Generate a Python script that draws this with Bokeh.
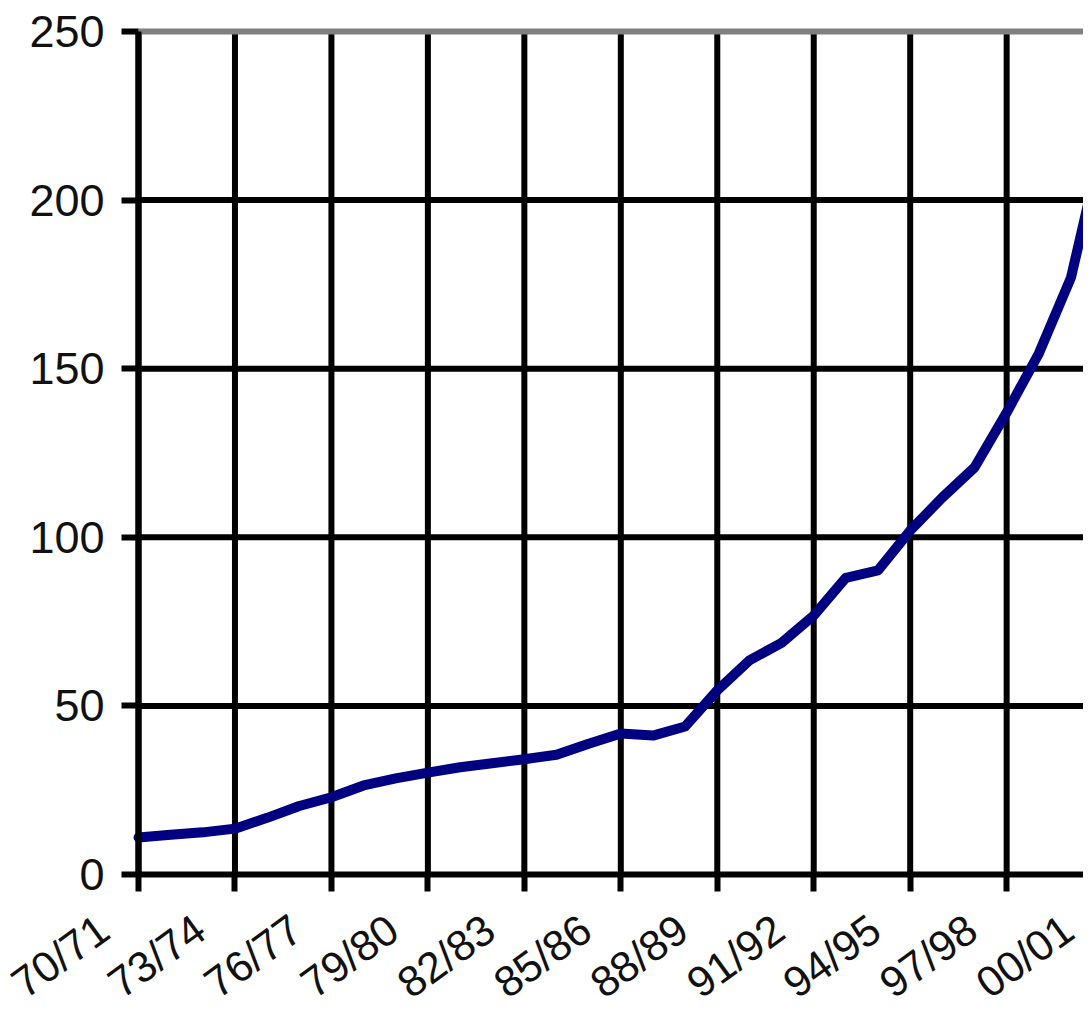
import math
from bokeh.plotting import figure
from bokeh.models import Range1d, FixedTicker, LabelSet, ColumnDataSource
from bokeh.core.properties import value
from bokeh.embed import file_html
from bokeh.resources import INLINE

# ---- data ----
years = ["70/71", "71/72", "72/73", "73/74", "74/75", "75/76", "76/77", "77/78",
         "78/79", "79/80", "80/81", "81/82", "82/83", "83/84", "84/85", "85/86",
         "86/87", "87/88", "88/89", "89/90", "90/91", "91/92", "92/93", "93/94",
         "94/95", "95/96", "96/97", "97/98", "98/99", "99/00", "00/01"]
values = [11.0, 11.8, 12.5, 13.6, 16.8, 20.3, 22.9, 26.4, 28.5, 30.2,
          31.8, 33.0, 34.2, 35.5, 38.8, 41.8, 41.2, 43.9, 54.6, 63.5,
          68.7, 76.8, 88.0, 90.2, 102.0, 111.8, 120.7, 137.0, 154.5, 177.0,
          218.0]
y_ticks = [0, 50, 100, 150, 200, 250]
label_step = 3

idx = list(range(len(years)))
tick_idx = idx[::label_step]
tick_lab = years[::label_step]
y_top = y_ticks[-1]
x_last = idx[-1]

FONT = "Liberation Sans"
TXT = "#111111"

# frame covers the whole figure; the axes sit at x=0 / y=0 inside it
# (x=0 at 138 px, 32.15 px per year; y=0 at 874 px, 3.372 px per unit)
p = figure(width=1083, height=1008, output_backend="svg", toolbar_location=None,
           x_range=Range1d(-4.292, 29.39), y_range=Range1d(-39.74, 259.19),
           min_border_left=0, min_border_right=0, min_border_top=0,
           min_border_bottom=0)
p.outline_line_color = None
p.background_fill_color = "white"
p.border_fill_color = "white"
p.xgrid.visible = False
p.ygrid.visible = False

# grid lines of the plot area
inner_y = [t for t in y_ticks if 0 < t < y_top]
p.segment(x0=[0] * len(inner_y), y0=inner_y, x1=[x_last] * len(inner_y), y1=inner_y,
          line_color="black", line_width=6)
p.segment(x0=tick_idx, y0=[0] * len(tick_idx), x1=tick_idx, y1=[y_top] * len(tick_idx),
          line_color="black", line_width=6)
p.segment(x0=[0], y0=[y_top], x1=[x_last], y1=[y_top],
          line_color="#808080", line_width=6)

# axes
p.xaxis.ticker = FixedTicker(ticks=tick_idx)
p.xaxis.fixed_location = 0
p.xaxis.bounds = (0, x_last)
p.yaxis.ticker = FixedTicker(ticks=y_ticks)
p.yaxis.fixed_location = 0
p.yaxis.bounds = (0, y_top)
for ax in (p.xaxis, p.yaxis):
    ax.axis_line_color = "black"
    ax.axis_line_width = 6
    ax.major_tick_line_color = "black"
    ax.major_tick_line_width = 6
    ax.major_tick_out = 17
    ax.major_tick_in = 0
    ax.minor_tick_line_color = None
p.xaxis.major_label_text_color = None
p.yaxis.major_label_text_font = FONT
p.yaxis.major_label_text_font_size = "45px"
p.yaxis.major_label_text_color = TXT
p.yaxis.major_label_standoff = 17

# data line
p.line(idx, values, line_color="#000080", line_width=10, line_join="round",
       line_cap="round")

# rotated category labels
src = ColumnDataSource(dict(x=tick_idx, y=[0] * len(tick_idx), t=tick_lab))
labels = LabelSet(x="x", y="y", text="t", source=src, angle=36 * math.pi / 180,
                  x_offset=-26, y_offset=-62,
                  text_align="right", text_baseline="alphabetic",
                  text_font=value(FONT), text_font_size=value("43px"),
                  text_color=TXT)
p.add_layout(labels)

open("out.html", "w").write(file_html(p, INLINE))
